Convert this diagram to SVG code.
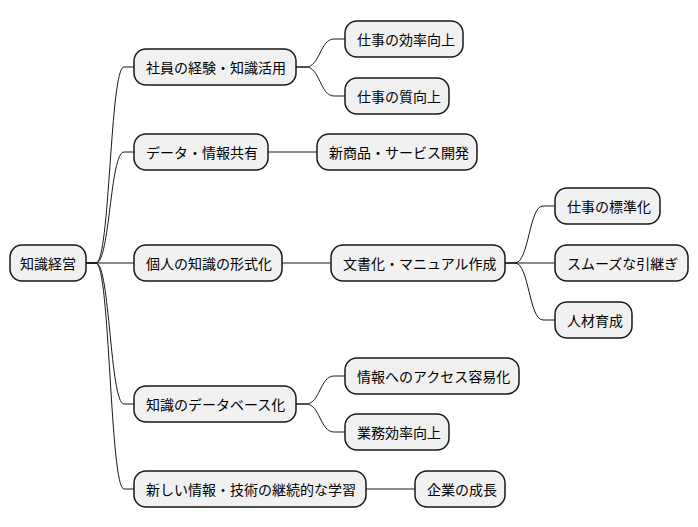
<svg xmlns="http://www.w3.org/2000/svg" width="698" height="527" viewBox="0 0 698 527">
<style>
.n rect{fill:#F1F1F1;stroke:#181818;stroke-width:1.5}
.n text{font-family:"Noto Sans CJK JP","Noto Sans",sans-serif;font-size:14px;fill:#000;dominant-baseline:central}
.c path{fill:none;stroke:#181818;stroke-width:1}
</style>
<rect width="698" height="527" fill="#fff"/>
<g class="c">
<path d="M86,263 L96,263 C110,263 110,67 124,67 L134,67"/>
<path d="M86,263 L96,263 C110,263 110,152 124,152 L134,152"/>
<path d="M86,263 L134,263"/>
<path d="M86,263 L96,263 C110,263 110,404 124,404 L134,404"/>
<path d="M86,263 L96,263 C110,263 110,489 124,489 L134,489"/>
<path d="M296,67 L306,67 C320,67 320,39 334,39 L345,39"/>
<path d="M296,67 L306,67 C320,67 320,96 334,96 L345,96"/>
<path d="M268,152 L317,152"/>
<path d="M282,263 L331,263"/>
<path d="M505,263 L515,263 C529,263 529,206 543,206 L555,206"/>
<path d="M505,263 L555,263"/>
<path d="M505,263 L515,263 C529,263 529,320 543,320 L555,320"/>
<path d="M296,404 L306,404 C320,404 320,376 334,376 L345,376"/>
<path d="M296,404 L306,404 C320,404 320,432 334,432 L345,432"/>
<path d="M366,489 L415,489"/>
</g>
<g id="root" class="n"><rect x="10" y="245" width="76" height="36" rx="12"/><text x="20" y="263">知識経営</text></g>
<g id="n1" class="n"><rect x="134" y="49" width="162" height="36" rx="12"/><text x="146" y="67">社員の経験・知識活用</text></g>
<g id="n2" class="n"><rect x="134" y="134" width="134" height="36" rx="12"/><text x="146" y="152">データ・情報共有</text></g>
<g id="n3" class="n"><rect x="134" y="245" width="148" height="36" rx="12"/><text x="146" y="263">個人の知識の形式化</text></g>
<g id="n4" class="n"><rect x="134" y="386" width="162" height="36" rx="12"/><text x="146" y="404">知識のデータベース化</text></g>
<g id="n5" class="n"><rect x="134" y="471" width="232" height="36" rx="12"/><text x="146" y="489">新しい情報・技術の継続的な学習</text></g>
<g id="n11" class="n"><rect x="345" y="21" width="118" height="36" rx="12"/><text x="357" y="39">仕事の効率向上</text></g>
<g id="n12" class="n"><rect x="345" y="78" width="104" height="36" rx="12"/><text x="357" y="96">仕事の質向上</text></g>
<g id="n21" class="n"><rect x="317" y="134" width="160" height="36" rx="12"/><text x="329" y="152">新商品・サービス開発</text></g>
<g id="n31" class="n"><rect x="331" y="245" width="174" height="36" rx="12"/><text x="343" y="263">文書化・マニュアル作成</text></g>
<g id="n311" class="n"><rect x="555" y="188" width="105" height="36" rx="12"/><text x="567" y="206">仕事の標準化</text></g>
<g id="n312" class="n"><rect x="555" y="245" width="133" height="36" rx="12"/><text x="567" y="263">スムーズな引継ぎ</text></g>
<g id="n313" class="n"><rect x="555" y="302" width="77" height="36" rx="12"/><text x="567" y="320">人材育成</text></g>
<g id="n41" class="n"><rect x="345" y="358" width="174" height="36" rx="12"/><text x="357" y="376">情報へのアクセス容易化</text></g>
<g id="n42" class="n"><rect x="345" y="414" width="104" height="36" rx="12"/><text x="357" y="432">業務効率向上</text></g>
<g id="n51" class="n"><rect x="415" y="471" width="90" height="36" rx="12"/><text x="427" y="489">企業の成長</text></g>
</svg>
